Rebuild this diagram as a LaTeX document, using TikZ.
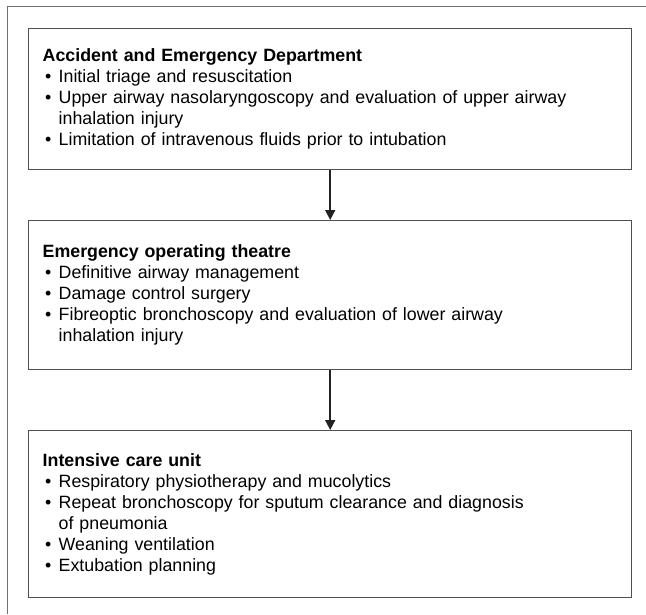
\documentclass[tikz,border=0pt]{standalone}
\usepackage{fontspec}
\setmainfont{Liberation Sans}
\usetikzlibrary{arrows.meta}
\definecolor{boxgray}{HTML}{505050}
\definecolor{framegray}{HTML}{707070}
\definecolor{arrowgray}{HTML}{222222}
\newcommand{\bitem}{\makebox[16pt][l]{\hspace{2.5pt}\textbullet}}
\newcommand{\bcont}{\hspace*{16pt}}
\begin{document}
\begin{tikzpicture}[x=1pt,y=-1pt,
  box/.style={draw=boxgray, line width=1.4pt, anchor=north west,
    minimum width=603pt, text width=575pt, inner xsep=14pt, inner ysep=0pt,
    align=left, font=\fontsize{17.8}{21}\selectfont},
  flow/.style={-{Triangle[width=10pt,length=10pt]}, line width=1.6pt, draw=arrowgray}]
\useasboundingbox (0,0) rectangle (646,614);
\draw[framegray, line width=1pt] (7,614) |- (646,6);
\node[box, minimum height=141pt] (aed) at (28,28) {\textbf{Accident and Emergency Department}\\
\bitem Initial triage and resuscitation\\
\bitem Upper airway nasolaryngoscopy and evaluation of upper airway\\
\bcont inhalation injury\\
\bitem Limitation of intravenous fluids prior to intubation};
\node[box, minimum height=149pt] (eot) at (28,220) {\textbf{Emergency operating theatre}\\
\bitem Definitive airway management\\
\bitem Damage control surgery\\
\bitem Fibreoptic bronchoscopy and evaluation of lower airway\\
\bcont inhalation injury};
\node[box, minimum height=167pt] (icu) at (28,430) {\textbf{Intensive care unit}\\
\bitem Respiratory physiotherapy and mucolytics\\
\bitem Repeat bronchoscopy for sputum clearance and diagnosis\\
\bcont of pneumonia\\
\bitem Weaning ventilation\\
\bitem Extubation planning};
\draw[flow] (aed) -- (eot);
\draw[flow] (eot) -- (icu);
\end{tikzpicture}
\end{document}
